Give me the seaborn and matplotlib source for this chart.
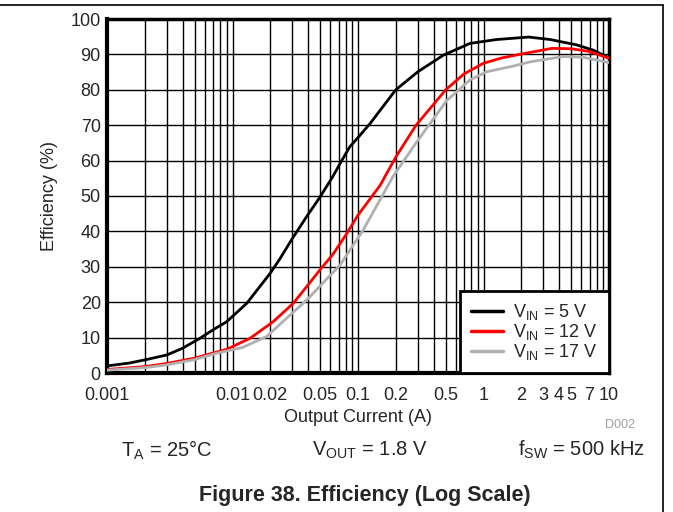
import numpy as np
import pandas as pd
import matplotlib.pyplot as plt
import seaborn as sns
from matplotlib.lines import Line2D
from matplotlib.ticker import FixedLocator, NullLocator

# ==========================================
# DATA
# ==========================================

current_5v = [0.001, 0.0015, 0.002, 0.003, 0.004, 0.0055, 0.007, 0.009, 0.013, 0.02,
              0.024, 0.03, 0.039, 0.05, 0.063, 0.072, 0.086, 0.1, 0.125, 0.16,
              0.2, 0.3, 0.48, 0.78, 1.27, 2.3, 3.4, 5.5, 7.5, 10]
eff_5v = [2.0, 2.8, 3.7, 5.1, 7.0, 9.8, 12.2, 14.5, 19.7, 28.2,
          32.4, 38.0, 44.2, 49.8, 55.5, 59.2, 63.9, 66.5, 70.5, 75.5,
          80.0, 85.1, 89.8, 93.1, 94.2, 94.9, 94.2, 92.7, 91.2, 89.0]

current_12v = [0.001, 0.002, 0.003, 0.005, 0.009, 0.0138, 0.0211, 0.0305, 0.039, 0.0497,
               0.063, 0.08, 0.1, 0.15, 0.2, 0.29, 0.5, 0.7, 1.0, 1.4,
               2.0, 3.5, 5.0, 7.0, 10]
eff_12v = [1.0, 1.8, 2.7, 4.2, 6.7, 9.8, 14.5, 19.7, 24.4, 29.1,
           33.5, 39.0, 44.6, 53.0, 61.0, 70.0, 80.0, 84.5, 87.5, 89.0,
           90.1, 91.7, 91.6, 90.8, 88.9]

current_17v = [0.001, 0.002, 0.003, 0.005, 0.0075, 0.012, 0.0187, 0.027, 0.039, 0.072,
               0.11, 0.19, 0.29, 0.51, 0.78, 1.06, 1.63, 2.36, 4.3, 6.2, 10]
eff_17v = [0.8, 1.5, 2.3, 3.8, 5.6, 7.2, 10.3, 15.5, 20.6, 30.5,
           40.4, 55.5, 65.0, 77.0, 82.8, 85.1, 86.5, 87.9, 89.4, 89.2, 87.7]

series_labels = [r"V$_{\mathregular{IN}}$ = 5 V",
                 r"V$_{\mathregular{IN}}$ = 12 V",
                 r"V$_{\mathregular{IN}}$ = 17 V"]
series_colors = ["#000000", "#ff0000", "#b0b0b0"]

x_ticks = [0.001, 0.01, 0.02, 0.05, 0.1, 0.2, 0.5, 1, 2, 3, 4, 5, 7, 10]
x_tick_labels = ["0.001", "0.01", "0.02", "0.05", "0.1", "0.2", "0.5",
                 "1", "2", "3", "4", "5", "7", "10"]
y_ticks = list(range(0, 101, 10))

# ==========================================
# STYLE
# ==========================================

sns.set_style("white")
plt.rcParams["font.family"] = ["Liberation Sans", "DejaVu Sans"]
plt.rcParams["mathtext.fontset"] = "custom"
plt.rcParams["mathtext.rm"] = "Liberation Sans"
plt.rcParams["mathtext.default"] = "regular"

df = pd.concat([
    pd.DataFrame({"current": current_5v, "eff": eff_5v, "series": series_labels[0]}),
    pd.DataFrame({"current": current_12v, "eff": eff_12v, "series": series_labels[1]}),
    pd.DataFrame({"current": current_17v, "eff": eff_17v, "series": series_labels[2]}),
], ignore_index=True)

# ==========================================
# PLOT
# ==========================================

fig = plt.figure(figsize=(6.73, 5.12), dpi=100)
ax = fig.add_axes([107 / 673, 1 - 373 / 512, (609 - 107) / 673, (373 - 19) / 512])

ax.set_xscale("log")
ax.set_xlim(0.001, 10)
ax.set_ylim(0, 100)

# log grid: every 1..9 in each decade
grid_x = [m * 10.0 ** e for e in range(-3, 1) for m in range(1, 10)]
for gx in grid_x[1:]:
    ax.axvline(gx, color="black", lw=1.0, zorder=1)
for gy in y_ticks[1:]:
    ax.axhline(gy, color="black", lw=1.0, zorder=1)

sns.lineplot(data=df, x="current", y="eff", hue="series",
             palette=series_colors, hue_order=series_labels,
             linewidth=2.0, ax=ax, zorder=3, estimator=None, sort=False)

ax.xaxis.set_major_locator(FixedLocator(x_ticks))
ax.xaxis.set_minor_locator(NullLocator())
ax.set_xticklabels(x_tick_labels)
ax.set_yticks(y_ticks)
ax.tick_params(axis="both", length=0, labelsize=13)
ax.tick_params(axis="x", pad=10)
ax.tick_params(axis="y", pad=4.5)

for side in ["left", "bottom", "top", "right"]:
    ax.spines[side].set_visible(True)
    ax.spines[side].set_color("black")
ax.spines["left"].set_linewidth(3)
ax.spines["bottom"].set_linewidth(3)
ax.spines["top"].set_linewidth(2.5)
ax.spines["right"].set_linewidth(2.5)

ax.set_xlabel("Output Current (A)", fontsize=13, labelpad=4)
ax.set_ylabel("Efficiency (%)", fontsize=13, labelpad=9)

leg = ax.legend(loc="lower right", fontsize=13, frameon=True, fancybox=False,
                borderaxespad=0, handlelength=1.8, handletextpad=0.55,
                labelspacing=0.0, borderpad=0.6)
leg.get_frame().set_edgecolor("black")
leg.get_frame().set_linewidth(2)
leg.get_frame().set_alpha(1)
for line in leg.get_lines():
    line.set_linewidth(2.5)

# conditions and caption
fig.text(167 / 673, 1 - 450 / 512, r"T$_{\mathregular{A}}$ = 25°C", ha="center", va="center", fontsize=14.5)
fig.text(370 / 673, 1 - 450 / 512, r"V$_{\mathregular{OUT}}$ = 1.8 V", ha="center", va="center", fontsize=14.5)
fig.text(581 / 673, 1 - 450 / 512, r"f$_{\mathregular{SW}}$ = 500 kHz", ha="center", va="center", fontsize=14.5)
fig.text(620 / 673, 1 - 425 / 512, "D002", ha="center", va="center", fontsize=9, color="#a0a0a0")
fig.text(365 / 673, 1 - 496 / 512, "Figure 38. Efficiency (Log Scale)", ha="center", va="center",
         fontsize=15.5, fontweight="bold")

# outer frame (top and right edges)
fig.add_artist(Line2D([0, 663 / 673], [1 - 4.5 / 512, 1 - 4.5 / 512], color="black", lw=1.2,
                      transform=fig.transFigure))
fig.add_artist(Line2D([663 / 673, 663 / 673], [0, 1 - 4.5 / 512], color="black", lw=1.2,
                      transform=fig.transFigure))

fig.savefig("out.png", dpi=100)
